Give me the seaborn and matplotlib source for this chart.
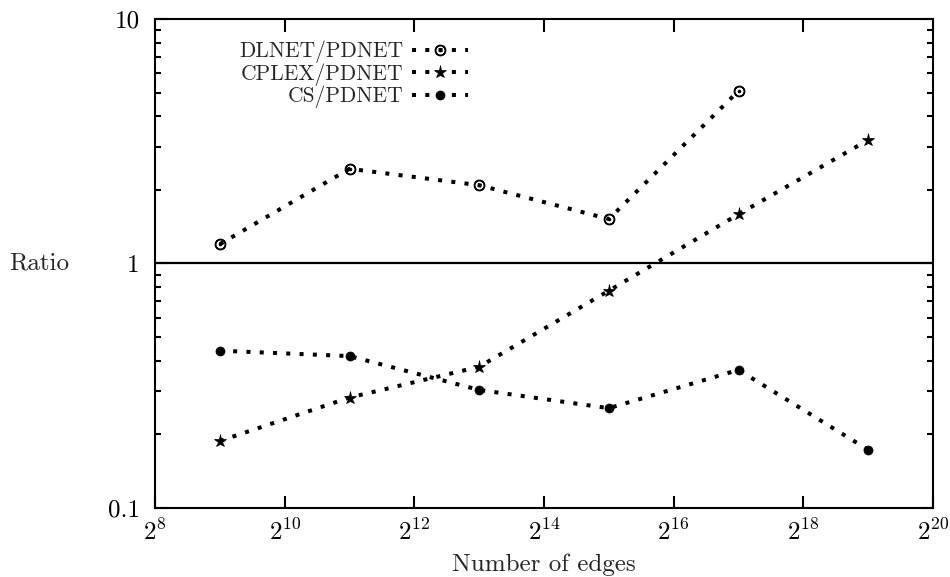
import matplotlib
matplotlib.use("Agg")
import matplotlib.pyplot as plt
import matplotlib.ticker as mticker
from matplotlib.legend_handler import HandlerLine2D
import seaborn as sns
import pandas as pd

# Data (x = number of edges, y = ratio)
edges = [2**9, 2**11, 2**13, 2**15, 2**17, 2**19]
dlnet_ratio = [1.20, 2.44, 2.09, 1.52, 5.08]
cplex_ratio = [0.188, 0.283, 0.378, 0.774, 1.59, 3.20]
cs_ratio = [0.440, 0.418, 0.304, 0.256, 0.367, 0.173]

series_names = ["DLNET/PDNET", "CPLEX/PDNET", "CS/PDNET"]
x_ticks = [2**k for k in range(8, 21, 2)]
x_ticklabels = [r"$2^{%d}$" % k for k in range(8, 21, 2)]
y_ticks = [0.1, 1, 10]
y_ticklabels = ["0.1", "1", "10"]

df = pd.concat([
    pd.DataFrame({"edges": edges[:len(dlnet_ratio)], "ratio": dlnet_ratio, "series": series_names[0]}),
    pd.DataFrame({"edges": edges, "ratio": cplex_ratio, "series": series_names[1]}),
    pd.DataFrame({"edges": edges, "ratio": cs_ratio, "series": series_names[2]}),
])

sns.set_style("ticks")
plt.rcParams["font.family"] = "serif"
plt.rcParams["font.serif"] = ["cmr10", "DejaVu Serif"]
plt.rcParams["mathtext.fontset"] = "cm"
plt.rcParams["axes.formatter.use_mathtext"] = True


# gnuplot-like key sample: point drawn left of the middle of the line
class KeyHandler(HandlerLine2D):
    def get_xdata(self, legend, xdescent, ydescent, width, height, fontsize):
        xdata = [-xdescent, -xdescent + width]
        return xdata, [-xdescent + 0.38 * width]


fig = plt.figure(figsize=(9.5, 5.77), dpi=100)
ax = fig.add_axes([0.1632, 0.1196, 0.8189, 0.8475])

dotted = (0, (1, 2.3))
styles = {
    "DLNET/PDNET": dict(marker=r"$\odot$", markersize=7.5, markeredgewidth=1.0),
    "CPLEX/PDNET": dict(marker="*", markersize=9.5, markeredgewidth=0.5),
    "CS/PDNET": dict(marker="o", markersize=6.5, markeredgewidth=0.5),
}
for name in series_names:
    sub = df[df["series"] == name]
    sns.lineplot(data=sub, x="edges", y="ratio", ax=ax, label=name,
                 color="black", linestyle=dotted, linewidth=2.9,
                 markeredgecolor="black", markerfacecolor="black",
                 estimator=None, sort=False, **styles[name])

ax.axhline(1, color="black", linewidth=1.6)

ax.set_xscale("log", base=2)
ax.set_yscale("log")
ax.set_xlim(2**8, 2**20)
ax.set_ylim(0.1, 10)

ax.xaxis.set_major_locator(mticker.FixedLocator(x_ticks))
ax.xaxis.set_major_formatter(mticker.FixedFormatter(x_ticklabels))
ax.xaxis.set_minor_locator(mticker.NullLocator())
ax.yaxis.set_major_locator(mticker.FixedLocator(y_ticks))
ax.yaxis.set_major_formatter(mticker.FixedFormatter(y_ticklabels))
ax.yaxis.set_minor_locator(mticker.LogLocator(base=10, subs=range(2, 10)))
ax.yaxis.set_minor_formatter(mticker.NullFormatter())

ax.tick_params(which="both", direction="in", top=True, right=True,
               width=1.5, labelsize=18, colors="black")
ax.tick_params(axis="x", which="major", length=9, pad=8)
ax.tick_params(axis="y", which="major", length=9, pad=11)
ax.tick_params(which="minor", length=4.5)

for sp in ax.spines.values():
    sp.set_linewidth(1.5)
    sp.set_color("black")

ax.set_xlabel("Number of edges", fontsize=18, labelpad=6)
ax.set_ylabel("Ratio", fontsize=18, rotation=0, ha="left", va="center")
ax.yaxis.set_label_coords(-0.187, 0.5)

handles, labels = ax.get_legend_handles_labels()
leg = ax.legend(handles, labels, loc="upper right", bbox_to_anchor=(0.4165, 0.977),
                markerfirst=False, frameon=False, fontsize=15.5,
                handlelength=2.6, handletextpad=0.4, labelspacing=0.0,
                borderpad=0, handler_map={h: KeyHandler() for h in handles})

fig.savefig("out.png", dpi=100)
